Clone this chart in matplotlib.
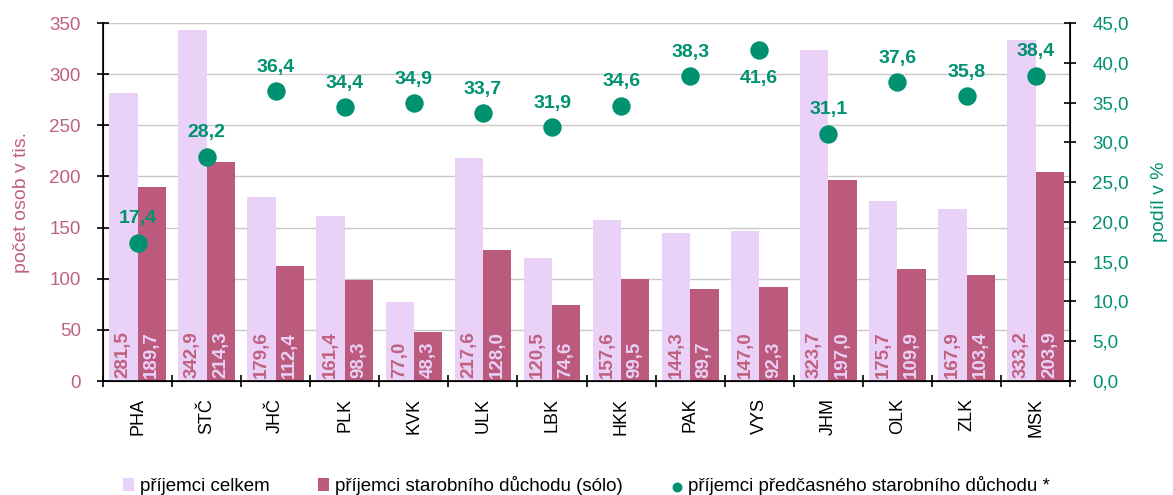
import numpy as np
import matplotlib.pyplot as plt
from matplotlib.ticker import FuncFormatter, FixedLocator

plt.rcParams['font.family'] = ['Liberation Sans', 'DejaVu Sans']

# data
kraje = ['PHA', 'STČ', 'JHČ', 'PLK', 'KVK', 'ULK', 'LBK', 'HKK', 'PAK', 'VYS', 'JHM', 'OLK', 'ZLK', 'MSK']
celkem = [281.5, 342.9, 179.6, 161.4, 77.0, 217.6, 120.5, 157.6, 144.3, 147.0, 323.7, 175.7, 167.9, 333.2]
solo = [189.7, 214.3, 112.4, 98.3, 48.3, 128.0, 74.6, 99.5, 89.7, 92.3, 197.0, 109.9, 103.4, 203.9]
podil = [17.4, 28.2, 36.4, 34.4, 34.9, 33.7, 31.9, 34.6, 38.3, 41.6, 31.1, 37.6, 35.8, 38.4]

c_light = '#E9D1F7'
c_dark = '#BC5A7E'
c_green = '#009170'
c_pink = '#C0607F'

def cz(v):
    return f'{v:.1f}'.replace('.', ',')

fig = plt.figure(figsize=(11.73, 4.95), dpi=100)
ax = fig.add_axes([0.0878, 0.2303, 0.8245, 0.7232])
ax2 = ax.twinx()

x = np.arange(len(kraje))
w = 0.41
b1 = ax.bar(x - w / 2, celkem, w, color=c_light, label='příjemci celkem', zorder=2)
b2 = ax.bar(x + w / 2, solo, w, color=c_dark, label='příjemci starobního důchodu (sólo)', zorder=2)

for xi, v in zip(x, celkem):
    ax.text(xi - w / 2, 3, cz(v), rotation=90, ha='center', va='bottom',
            color=c_pink, fontsize=13.5, fontweight='bold', zorder=3)
for xi, v in zip(x, solo):
    ax.text(xi + w / 2, 3, cz(v), rotation=90, ha='center', va='bottom',
            color=c_light, fontsize=13.5, fontweight='bold', zorder=3)

ax.set_xlim(-0.5, len(kraje) - 0.5)
ax.set_ylim(0, 350)
ax.set_yticks(np.arange(0, 351, 50))
ax.yaxis.grid(True, color='#C8C8C8', linewidth=1, zorder=0)
ax.set_axisbelow(True)
ax.tick_params(axis='y', colors=c_pink, labelsize=13.5, direction='inout', length=8, width=1.2, pad=12)
ax.tick_params(axis='y', which='both', color='black')
ax.set_ylabel('počet osob v tis.', color=c_pink, fontsize=14, labelpad=14)

ax.set_xticks(x)
ax.set_xticklabels(kraje, rotation=90, fontsize=13)
ax.tick_params(axis='x', which='major', length=0, pad=12)
ax.xaxis.set_minor_locator(FixedLocator(np.arange(-0.5, len(kraje), 1)))
ax.tick_params(axis='x', which='minor', length=8, direction='inout', width=1.2)

for s in ['top']:
    ax.spines[s].set_visible(False)
    ax2.spines[s].set_visible(False)
for s in ['left', 'right', 'bottom']:
    ax2.spines[s].set_color('black')
    ax2.spines[s].set_linewidth(1.2)

sc = ax2.scatter(x, podil, s=150, color=c_green, zorder=4,
                 label='příjemci předčasného starobního důchodu *')
for xi, v in zip(x, podil):
    if v > 40:
        ax2.annotate(cz(v), (xi, v), xytext=(0, -14), textcoords='offset points',
                     ha='center', va='top', color=c_green, fontsize=14, fontweight='bold')
    else:
        ax2.annotate(cz(v), (xi, v), xytext=(0, 11), textcoords='offset points',
                     ha='center', va='bottom', color=c_green, fontsize=14, fontweight='bold')
ax2.set_ylim(0, 45)
ax2.set_yticks(np.arange(0, 45.1, 5))
ax2.yaxis.set_major_formatter(FuncFormatter(lambda v, p: cz(v)))
ax2.tick_params(axis='y', colors=c_green, labelsize=13.5, direction='inout', length=8, width=1.2, pad=12)
ax2.tick_params(axis='y', color='black')
ax2.set_ylabel('podíl v %', color=c_green, fontsize=14, labelpad=16)

fig.legend([b1, b2, sc], [b1.get_label(), b2.get_label(), sc.get_label()],
           loc='lower center', bbox_to_anchor=(0.5, -0.035), ncol=3, frameon=False,
           prop={'size': 13.5}, handlelength=0.6, handletextpad=0.3, columnspacing=2.6,
           markerscale=0.5)

fig.savefig('out.png', dpi=100)
